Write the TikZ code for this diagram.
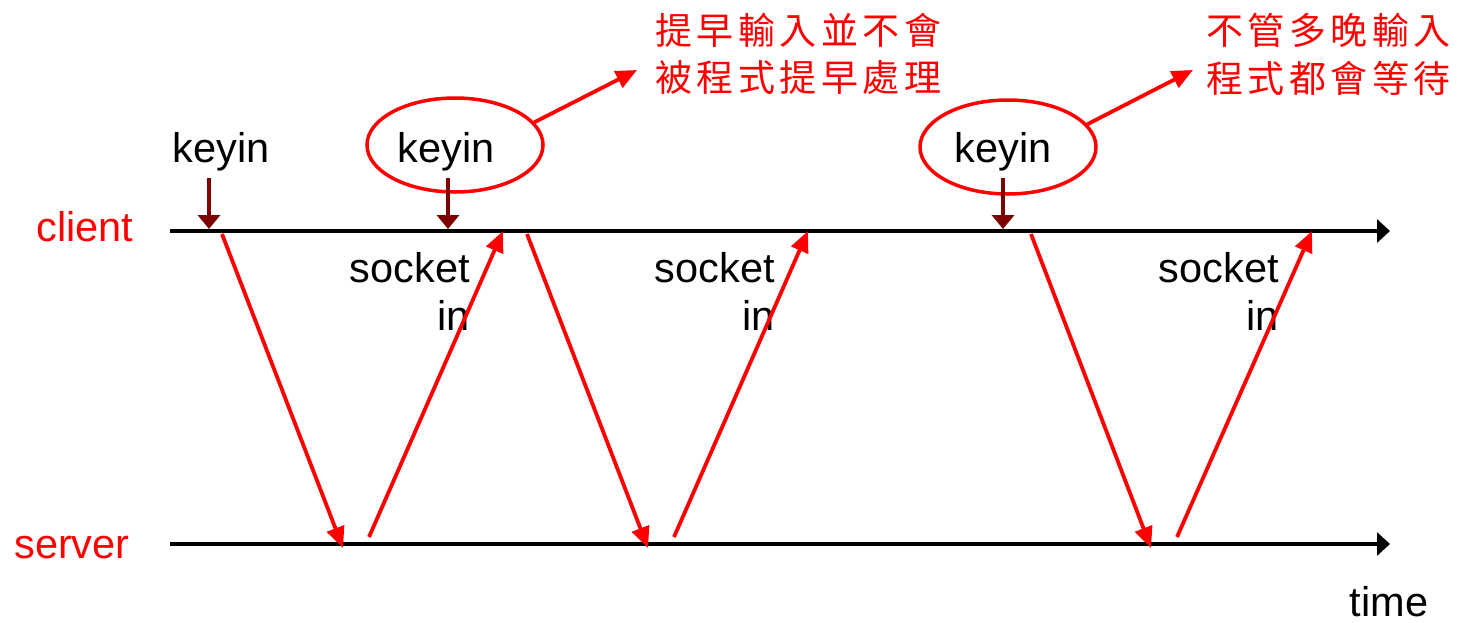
\documentclass[tikz,border=0pt]{standalone}
\usepackage{fontspec}
\setmainfont{Liberation Sans}
\newfontfamily\cjk{Noto Sans CJK TC}
\usetikzlibrary{arrows.meta,shapes.geometric}
\definecolor{dred}{HTML}{7F0000}
\newcommand\cc[1]{\makebox[41.5pt]{#1}}
\tikzset{
  lab/.style={font=\fontsize{41.5}{46}\selectfont, inner sep=0pt, anchor=base},
  zh/.style={font=\cjk\fontsize{37}{44}\selectfont, text=red, inner sep=0pt, anchor=west},
  axis/.style={line width=4pt, -{Triangle[length=13pt,width=23pt]}},
  msg/.style={red, line width=3.8pt, -{Triangle[length=21pt,width=18pt]}},
  kin/.style={dred, line width=4pt, -{Triangle[length=14pt,width=22pt]}},
  oval/.style={draw=red, line width=3.5pt, ellipse, minimum width=176pt, minimum height=94pt, inner sep=0pt},
  note/.style={red, line width=3.8pt, -{Triangle[length=21pt,width=18pt]}}
}
\begin{document}
\begin{tikzpicture}[x=1pt,y=-1pt]
\useasboundingbox (0,0) rectangle (1459,622);
% axes
\coordinate (c0) at (170,231); \coordinate (c1) at (1390,231);
\coordinate (s0) at (170,544); \coordinate (s1) at (1390,544);
\draw[axis] (c0) -- (c1);
\draw[axis] (s0) -- (s1);
\node[lab, text=red] (client) at (85,241) {client};
\node[lab, text=red] (server) at (72,558) {server};
\node[lab] (time) at (1389,616) {time};
% keyin labels
\node[lab] (k1) at (221,162) {keyin};
\node[lab] (k2) at (446,162) {keyin};
\node[lab] (k3) at (1003,162) {keyin};
\node[oval] (o2) at (455,145) {};
\node[oval] (o3) at (1008,147) {};
\coordinate (k1a) at (209,178); \coordinate (k1b) at (209,229);
\coordinate (k2a) at (448,178); \coordinate (k2b) at (448,229);
\coordinate (k3a) at (1003,178); \coordinate (k3b) at (1003,229);
\draw[kin] (k1a) -- (k1b);
\draw[kin] (k2a) -- (k2b);
\draw[kin] (k3a) -- (k3b);
% socket in labels
\node[lab, anchor=base east] (s1t) at (470,282) {socket};
\node[lab, anchor=base east] (i1t) at (470,330) {in};
\node[lab, anchor=base east] (s2t) at (775,282) {socket};
\node[lab, anchor=base east] (i2t) at (775,330) {in};
\node[lab, anchor=base east] (s3t) at (1279,282) {socket};
\node[lab, anchor=base east] (i3t) at (1279,330) {in};
% messages
\coordinate (a1) at (222,234); \coordinate (b1) at (343,548);
\coordinate (a2) at (369,537); \coordinate (b2) at (503,231);
\coordinate (a3) at (527,234); \coordinate (b3) at (648,548);
\coordinate (a4) at (674,537); \coordinate (b4) at (808,231);
\coordinate (a5) at (1031,234); \coordinate (b5) at (1151,548);
\coordinate (a6) at (1177,537); \coordinate (b6) at (1312,231);
\draw[msg] (a1) -- (b1);
\draw[msg] (a2) -- (b2);
\draw[msg] (a3) -- (b3);
\draw[msg] (a4) -- (b4);
\draw[msg] (a5) -- (b5);
\draw[msg] (a6) -- (b6);
% annotations
\node[zh] (n1a) at (653,30) {\cc{提}\cc{早}\cc{輸}\cc{入}\cc{並}\cc{不}\cc{會}};
\node[zh] (n1b) at (653,78) {\cc{被}\cc{程}\cc{式}\cc{提}\cc{早}\cc{處}\cc{理}};
\node[zh] (n2a) at (1204,30) {\cc{不}\cc{管}\cc{多}\cc{晚}\cc{輸}\cc{入}};
\node[zh] (n2b) at (1204,78) {\cc{程}\cc{式}\cc{都}\cc{會}\cc{等}\cc{待}};
\coordinate (t1) at (637,70);
\coordinate (t2) at (1193,70);
\draw[note] (o2.16) -- (t1);
\draw[note] (o3.16) -- (t2);
\end{tikzpicture}
\end{document}
